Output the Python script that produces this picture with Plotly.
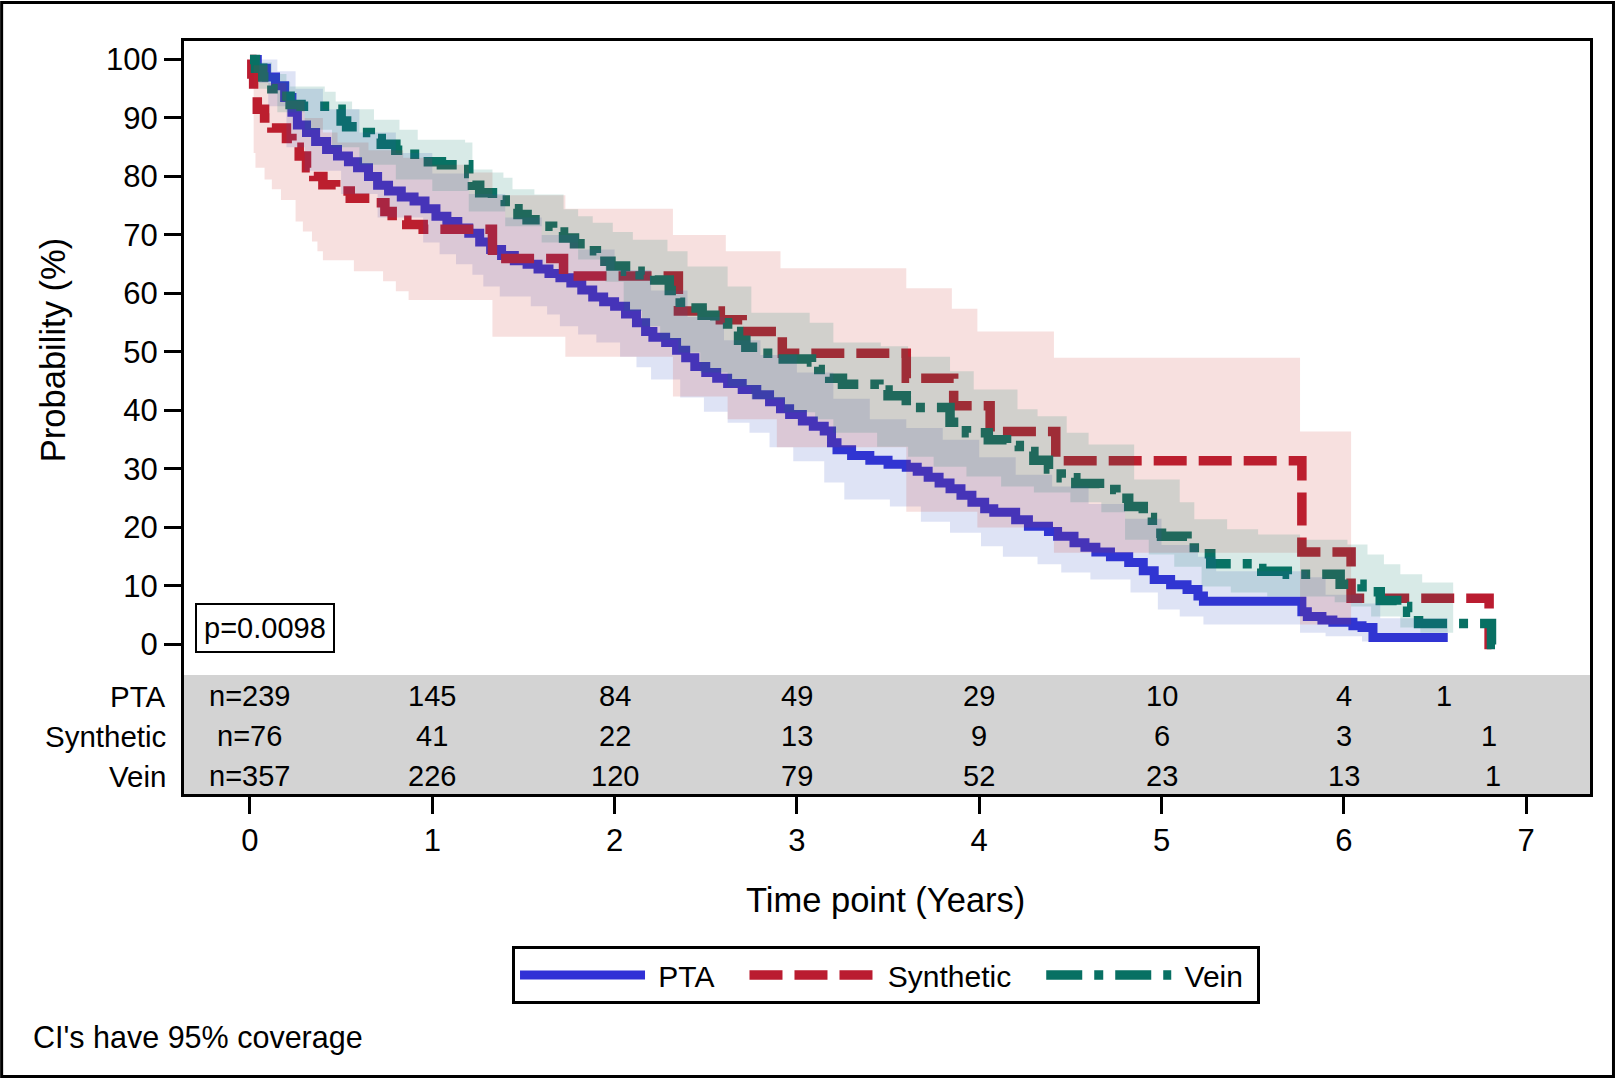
import plotly.graph_objects as go

# ---------------- data ----------------
pta_t = [0.00, 0.04, 0.09, 0.14, 0.19, 0.23, 0.26, 0.31, 0.36, 0.42, 0.48, 0.54, 0.59, 0.65, 0.70,
         0.76, 0.83, 0.90, 0.96, 1.02, 1.08, 1.14, 1.20, 1.26, 1.32, 1.38, 1.45, 1.52, 1.58, 1.64,
         1.70, 1.76, 1.82, 1.88, 1.94, 2.00, 2.06, 2.12, 2.17, 2.21, 2.28, 2.34, 2.39, 2.44, 2.50,
         2.56, 2.62, 2.70, 2.78, 2.85, 2.91, 2.96, 3.03, 3.09, 3.15, 3.19, 3.22, 3.30, 3.40, 3.50,
         3.60, 3.66, 3.72, 3.78, 3.84, 3.90, 3.96, 4.03, 4.08, 4.20, 4.27, 4.38, 4.43, 4.52, 4.58,
         4.64, 4.72, 4.82, 4.90, 4.96, 5.05, 5.14, 5.20, 5.23, 5.77, 5.80, 5.88, 5.94, 6.05, 6.10,
         6.16, 6.57]
pta_s = [100, 98.5, 97, 95.5, 93.5, 91, 88.8, 87.5, 86, 84.6, 83.5, 82.5, 81.5, 80, 78.5,
         77.5, 76.5, 75.8, 74.5, 73.2, 72.3, 71.2, 70.3, 68.8, 67.5, 66.5, 65.6, 65.0, 64.2, 63.4,
         62.7, 61.8, 60.6, 59.4, 58.6, 57.8, 56.5, 55.0, 53.5, 52.5, 51.6, 50.3, 49.0, 47.5, 46.5,
         45.5, 44.6, 43.6, 42.7, 41.5, 40.3, 39.3, 38.2, 37.3, 36.5, 34.5, 33.3, 32.3, 31.5, 30.8,
         30.3, 29.6, 28.6, 27.6, 26.6, 25.5, 24.3, 23.2, 22.6, 21.3, 20.2, 19.3, 18.5, 17.4, 16.6,
         15.8, 15.0, 14.0, 12.6, 11.1, 10.2, 9.4, 8.3, 7.4, 5.6, 4.8, 4.2, 3.8, 3.2, 2.9,
         1.2, 1.2]

syn_t = [0.00, 0.01, 0.02, 0.04, 0.08, 0.12, 0.20, 0.23, 0.27, 0.31, 0.35, 0.40, 0.47, 0.55, 0.68,
         0.74, 0.78, 0.86, 0.95, 1.33, 1.72, 2.35, 2.58, 2.70, 2.92, 3.60, 3.86, 4.06, 4.42, 5.77,
         6.04, 6.797, 6.81]
syn_s = [100, 97.5, 94, 91.5, 90, 88.3, 86.5, 85, 83.5, 81.5, 80, 78.6, 77.5, 76.3, 75.5,
         74, 72.5, 71.8, 71.0, 66.0, 63.0, 57.0, 55.5, 53.5, 49.8, 45.5, 40.8, 36.4, 31.4, 15.8,
         7.9, 0.0, 0.0]

vein_t = [0.00, 0.03, 0.07, 0.12, 0.16, 0.22, 0.28, 0.45, 0.50, 0.53, 0.60, 0.66, 0.72, 0.80, 0.87,
          0.95, 1.05, 1.20, 1.22, 1.26, 1.33, 1.40, 1.47, 1.52, 1.60, 1.66, 1.72, 1.78, 1.84, 1.90,
          1.98, 2.06, 2.14, 2.22, 2.30, 2.36, 2.42, 2.48, 2.55, 2.62, 2.68, 2.72, 2.80, 2.88, 3.08,
          3.12, 3.18, 3.25, 3.45, 3.50, 3.60, 3.84, 3.93, 4.05, 4.15, 4.22, 4.30, 4.38, 4.45, 4.53,
          4.66, 4.75, 4.82, 4.90, 4.95, 5.00, 5.14, 5.18, 5.27, 5.50, 5.55, 5.69, 5.98, 6.10, 6.20,
          6.29, 6.35, 6.41, 6.81, 6.87]
vein_s = [100, 98.5, 97, 95, 93.7, 92.3, 92.0, 91.5, 89.5, 88.5, 87.5, 86.5, 85.5, 84.5, 83.8,
          82.5, 82.0, 80.5, 78.5, 77.2, 76.0, 74.5, 73.5, 72.6, 71.5, 70.5, 69.5, 68.5, 67.3, 65.5,
          64.7, 63.8, 63.2, 62.3, 60.5, 58.5, 57.5, 56.3, 55.0, 53.5, 52.0, 50.8, 49.8, 48.8, 48.3,
          47.0, 45.5, 44.5, 43.5, 42.5, 40.5, 38.0, 36.2, 35.0, 34.0, 33.0, 31.5, 30.0, 28.5, 27.5,
          26.5, 25.0, 23.6, 21.7, 19.0, 18.5, 17.5, 15.5, 13.8, 13.0, 12.5, 12.0, 10.3, 9.0, 7.5,
          6.5, 5.5, 3.6, 0.0, 0.0]

# 95% confidence limits
pta_lo_t = [0.00, 0.05, 0.10, 0.20, 0.30, 0.50, 0.70, 0.95, 1.04, 1.13, 1.22, 1.28, 1.37, 1.54, 1.63,
            1.70, 1.80, 1.90, 2.03, 2.12, 2.20, 2.36, 2.49, 2.62, 2.74, 2.85, 2.98, 3.15, 3.26, 3.51,
            3.68, 3.84, 4.01, 4.13, 4.32, 4.45, 4.61, 4.83, 4.98, 5.10, 5.23, 5.76, 5.90, 6.10, 6.57]
pta_lo = [100, 96, 92, 85, 81, 77, 73, 68.7, 66.7, 65, 63.2, 61.2, 59.5, 57.8, 56.4,
          54.4, 53, 51.6, 49.2, 47.4, 45.3, 42.2, 39.8, 37.9, 36.2, 33.7, 31.3, 27.7, 24.8, 23.6,
          21, 19.1, 16.8, 15, 13.7, 12.3, 11.1, 8.9, 6, 4.8, 3.4, 2, 1.4, 0.5, 0.5]
pta_hi_t = [0.00, 0.05, 0.15, 0.25, 0.40, 0.60, 0.80, 1.00, 1.20, 1.40, 1.60, 1.80, 2.00, 2.20, 2.40,
            2.60, 2.80, 3.00, 3.20, 3.40, 3.60, 3.80, 4.00, 4.20, 4.40, 4.60, 4.80, 5.00, 5.20, 5.30,
            5.80, 5.90, 6.10, 6.20, 6.57]
pta_hi = [100, 100, 98, 95, 91.5, 87.5, 84, 80.5, 77, 73, 70, 67.5, 64, 60.5, 56,
          52, 49.5, 46.5, 42, 38.5, 37, 35, 32, 29, 27, 24, 21.5, 17, 15, 12.5,
          11.5, 8.5, 7, 4.5, 4.5]

syn_lo_t = [0.00, 0.02, 0.03, 0.08, 0.12, 0.17, 0.25, 0.29, 0.34, 0.37, 0.40, 0.57, 0.73, 0.80, 0.87,
            1.33, 1.73, 2.32, 2.62, 2.89, 3.60, 3.99, 4.41, 5.76, 6.04]
syn_lo = [100, 84, 81.5, 79.5, 77.8, 76, 72.3, 70.6, 68.9, 67.2, 65.7, 63.8, 62.1, 60.4, 58.9,
          52.6, 49.2, 42.4, 38.5, 33.7, 22.7, 20.0, 15.7, 3.4, 3.4]
syn_hi_t = [0.00, 0.02, 0.10, 0.20, 0.30, 0.40, 0.48, 0.65, 0.84, 1.00, 1.20, 1.33, 1.73, 2.32, 2.61,
            2.91, 3.60, 3.85, 3.99, 4.41, 5.76, 6.04]
syn_hi = [100, 99, 96, 93, 90, 87.5, 85.8, 84.5, 83.2, 82, 80.7, 76.8, 74.5, 70.0, 67.2,
          64.3, 60.9, 57.4, 53.5, 49.0, 36.4, 36.4]

vein_lo_t = [0.00, 0.05, 0.15, 0.30, 0.45, 0.60, 0.80, 1.00, 1.20, 1.40, 1.60, 1.80, 1.95, 2.05, 2.15,
             2.25, 2.35, 2.47, 2.62, 2.75, 2.93, 3.10, 3.20, 3.44, 3.61, 3.75, 3.93, 4.12, 4.30, 4.50,
             4.67, 4.80, 4.93, 5.07, 5.22, 5.38, 5.58, 5.95, 6.04, 6.15, 6.31, 6.42, 6.60]
vein_lo = [100, 95, 91, 88, 85, 82, 79.5, 77.5, 74, 71.5, 68.7, 65.8, 62, 57, 54.4,
           52.1, 49.9, 46.5, 44.1, 41.9, 39.7, 38.5, 36.2, 33.8, 32.1, 30.4, 28.7, 27, 26, 24.3,
           22.6, 17.9, 15.4, 13.3, 9.9, 8.9, 8.2, 7.2, 6.5, 4.8, 2.9, 2.0, 2.0]
vein_hi_t = [0.00, 0.05, 0.12, 0.20, 0.22, 0.41, 0.47, 0.56, 0.68, 0.82, 0.92, 1.18, 1.22, 1.33, 1.39,
             1.44, 1.56, 1.72, 1.80, 1.88, 1.99, 2.10, 2.29, 2.40, 2.62, 2.75, 3.07, 3.20, 3.46, 3.61,
             3.84, 3.97, 4.21, 4.32, 4.48, 4.60, 4.85, 5.10, 5.18, 5.36, 5.53, 5.76, 6.02, 6.13, 6.22,
             6.31, 6.43, 6.60]
vein_hi = [100, 99.5, 97.5, 96.2, 95.4, 94.5, 92.8, 91.5, 89.7, 88.0, 86.3, 85.8, 81.2, 80.7, 79.8,
           77.8, 76.9, 74.4, 73.2, 72.1, 70.5, 69.2, 67.2, 64.6, 61.2, 56.7, 55.0, 51.6, 51.0, 49.2,
           46.7, 43.6, 40.2, 39.0, 36.2, 34.2, 28.2, 24.3, 21.4, 19.7, 18.8, 17.9, 17.1, 15.4, 13.7,
           12.0, 10.6, 9.1]

# number at risk table
risk_groups = ["PTA", "Synthetic", "Vein"]
risk_times = [0, 1, 2, 3, 4, 5, 6]
pta_risk = ["n=239", "145", "84", "49", "29", "10", "4"]
syn_risk = ["n=76", "41", "22", "13", "9", "6", "3"]
vein_risk = ["n=357", "226", "120", "79", "52", "23", "13"]
last_risk_t = [6.55, 6.795, 6.82]
last_risk = ["1", "1", "1"]

x_ticks = [0, 1, 2, 3, 4, 5, 6, 7]
y_ticks = [0, 10, 20, 30, 40, 50, 60, 70, 80, 90, 100]
p_text = "p=0.0098"

# ---------------- styling ----------------
FONT = "Liberation Sans, Arial, Helvetica, sans-serif"
C_PTA = "#3030D6"
C_SYN = "#BA1C30"
C_VEIN = "#087063"
B_PTA = "rgba(50,80,190,0.16)"
B_SYN = "rgba(200,50,40,0.15)"
B_VEIN = "rgba(11,124,105,0.16)"
NB = "\u00a0"

fig = go.Figure()

# survival curves (drawn first; the translucent bands sit on top like in the original)
fig.add_trace(go.Scatter(x=pta_t, y=pta_s, mode="lines", name=NB + "PTA" + NB * 3,
                         line=dict(color=C_PTA, width=9, shape="hv")))
fig.add_trace(go.Scatter(x=syn_t, y=syn_s, mode="lines", name=NB + "Synthetic" + NB * 3,
                         line=dict(color=C_SYN, width=9.5, shape="hv", dash="33px,12px")))
fig.add_trace(go.Scatter(x=vein_t, y=vein_s, mode="lines", name=NB + "Vein" + NB,
                         line=dict(color=C_VEIN, width=9.5, shape="hv", dash="36px,12px,9px,12px")))

# confidence bands
for lo_t, lo, hi_t, hi, col in [(pta_lo_t, pta_lo, pta_hi_t, pta_hi, B_PTA),
                                (syn_lo_t, syn_lo, syn_hi_t, syn_hi, B_SYN),
                                (vein_lo_t, vein_lo, vein_hi_t, vein_hi, B_VEIN)]:
    fig.add_trace(go.Scatter(x=lo_t, y=lo, mode="lines", showlegend=False, hoverinfo="skip",
                             line=dict(width=0, shape="hv", color=col)))
    fig.add_trace(go.Scatter(x=hi_t, y=hi, mode="lines", showlegend=False, hoverinfo="skip",
                             fill="tonexty", fillcolor=col,
                             line=dict(width=0, shape="hv", color=col)))

Y_MIN, Y_MAX = -25.56, 103.16
TABLE_TOP = -5.21
row_y = [-8.84, -15.67, -22.5]

shapes = [
    # grey band behind the at-risk table
    dict(type="rect", xref="paper", yref="y", x0=0, x1=1, y0=Y_MIN, y1=TABLE_TOP,
         fillcolor="#D3D3D3", line=dict(width=0), layer="below"),
    # outer frame of the whole graphic
    dict(type="rect", xref="paper", yref="paper", x0=-0.1297, x1=1.0167, y0=-0.3752, y1=1.0511,
         line=dict(color="black", width=3), fillcolor="rgba(0,0,0,0)"),
]

annotations = []
for gi, (grp, vals) in enumerate(zip(risk_groups, [pta_risk, syn_risk, vein_risk])):
    annotations.append(dict(x=-0.0114, xref="paper", y=row_y[gi], yref="y", text=grp,
                            showarrow=False, xanchor="right", yanchor="middle",
                            font=dict(family=FONT, size=29.5, color="black")))
    for t, v in zip(risk_times, vals):
        annotations.append(dict(x=t, xref="x", y=row_y[gi], yref="y", text=v, showarrow=False,
                                xanchor="center", yanchor="middle",
                                font=dict(family=FONT, size=29, color="black")))
    annotations.append(dict(x=last_risk_t[gi], xref="x", y=row_y[gi], yref="y",
                            text=last_risk[gi], showarrow=False, xanchor="center",
                            yanchor="middle", font=dict(family=FONT, size=29, color="black")))

annotations += [
    dict(x=0.4986, y=-0.1404, xref="paper", yref="paper", text="Time point (Years)",
         showarrow=False, xanchor="center", yanchor="middle",
         font=dict(family=FONT, size=34.5, color="black")),
    dict(x=-0.0927, y=0.589, xref="paper", yref="paper", text="Probability (%)",
         showarrow=False, xanchor="center", yanchor="middle", textangle=-90,
         font=dict(family=FONT, size=34.5, color="black")),
    dict(x=0.0573, y=0.2205, xref="paper", yref="paper", text=p_text, showarrow=False,
         xanchor="center", yanchor="middle", bgcolor="white", bordercolor="black",
         borderwidth=2, borderpad=7, font=dict(family=FONT, size=29, color="black")),
    dict(x=-0.1088, y=-0.324, xref="paper", yref="paper", text="CI's have 95% coverage",
         showarrow=False, xanchor="left", yanchor="middle",
         font=dict(family=FONT, size=30.5, color="black")),
]

fig.update_layout(
    width=1616, height=1078,
    margin=dict(l=184, r=26, t=41, b=284, pad=0),
    paper_bgcolor="white", plot_bgcolor="white",
    font=dict(family=FONT, size=29, color="black"),
    showlegend=True,
    legend=dict(orientation="h", x=0.4993, xanchor="center", y=-0.2019, yanchor="top",
                bordercolor="black", borderwidth=3, bgcolor="white",
                font=dict(family=FONT, size=30, color="black"), itemwidth=125,
                traceorder="normal"),
    shapes=shapes, annotations=annotations,
    xaxis=dict(range=[-0.362, 7.3505], tickvals=x_ticks, ticktext=[str(v) for v in x_ticks],
               showgrid=False, zeroline=False, showline=True, mirror=True, linecolor="black",
               linewidth=3, ticks="outside", ticklen=17, tickwidth=3, tickcolor="black",
               tickfont=dict(family=FONT, size=31, color="black")),
    yaxis=dict(range=[Y_MIN, Y_MAX], tickvals=y_ticks, ticktext=[str(v) for v in y_ticks],
               showgrid=False, zeroline=False, showline=True, mirror=True, linecolor="black",
               linewidth=3, ticks="outside", ticklen=17, tickwidth=3, tickcolor="black",
               tickfont=dict(family=FONT, size=31, color="black")),
)

fig.write_html("out.html", config={"displayModeBar": False},
               post_script="document.body.style.margin='0px';document.body.style.overflow='hidden';")
